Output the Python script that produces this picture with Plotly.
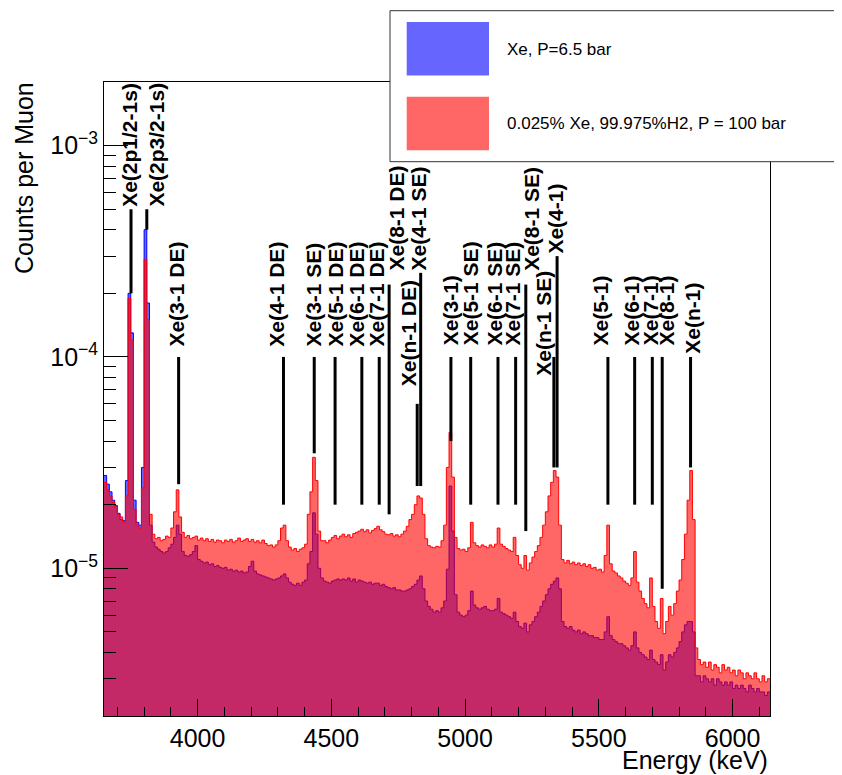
import numpy as np
import plotly.graph_objects as go

# ---------------- data ----------------
bin_low = 3650.0      # keV, lower edge of first bin
bin_width = 10.0      # keV
unit = 1e-6           # values below are in units of 1e-6 counts per muon

# Xe, P=6.5 bar  (blue)
xe_6p5bar = [
    27.5, 25.0, 23.0, 21.0, 19.8, 18.2, 17.0, 16.8, 26.0, 200,      # 3650
    130, 21.0, 16.5, 16.0, 30.0, 400, 180, 16.0, 13.3, 12.6,         # 3750
    12.3, 12.0, 11.8, 12.0, 12.5, 13.0, 14.0, 16.0, 14.5, 12.0,      # 3850
    11.5, 11.4, 11.6, 12.0, 12.8, 11.0, 10.8, 10.6, 10.7, 10.4,      # 3950
    10.5, 10.2, 10.3, 10.1, 10.0, 10.1, 9.8, 9.9, 9.7, 9.8,          # 4050
    9.6, 9.7, 9.5, 9.6, 10.2, 10.8, 9.7, 9.4, 9.3, 9.2,              # 4150
    9.1, 9.0, 8.9, 8.8, 8.9, 9.0, 9.2, 9.4, 9.0, 8.6,                # 4250
    8.4, 8.3, 8.5, 8.3, 8.6, 8.8, 10.5, 12.0, 18.3, 14.5,            # 4350
    10.0, 9.0, 8.7, 8.6, 8.5, 8.7, 8.8, 8.9, 8.8, 8.9,               # 4450
    8.8, 9.0, 8.7, 8.9, 8.6, 8.8, 8.7, 8.6, 8.5, 8.6,                # 4550
    8.4, 8.5, 8.5, 8.3, 8.4, 8.2, 8.1, 8.0, 8.1, 7.9,                # 4650
    7.9, 7.8, 7.8, 7.9, 8.0, 8.2, 8.4, 8.8, 9.2, 8.0,                # 4750
    7.0, 6.6, 6.4, 6.2, 6.3, 6.2, 6.5, 7.0, 9.9, 24.5,               # 4850
    15.0, 7.5, 6.2, 6.0, 5.9, 6.0, 6.3, 7.8, 6.7, 6.5,               # 4950
    6.4, 6.5, 6.6, 6.4, 6.3, 6.3, 6.4, 7.2, 6.2, 6.1,                # 5050
    6.0, 5.9, 5.8, 6.2, 5.6, 5.3, 5.2, 5.5, 5.0, 5.4,                # 5150
    5.6, 5.9, 6.2, 6.6, 7.0, 7.5, 8.0, 8.4, 8.7, 9.0,                # 5250
    8.0, 5.6, 5.3, 5.2, 5.3, 5.1, 5.0, 5.1, 4.9, 5.0,                # 5350
    4.9, 4.8, 4.8, 4.7, 4.7, 4.6, 4.6, 5.0, 5.9, 4.8,                # 5450
    4.6, 4.5, 4.4, 4.4, 4.3, 4.2, 4.1, 4.3, 5.0, 4.2,                # 5550
    4.0, 3.9, 3.8, 3.7, 4.1, 3.7, 3.6, 3.5, 3.9, 3.3,                # 5650
    3.6, 3.9, 3.8, 4.0, 4.2, 4.5, 5.0, 5.4, 5.6, 5.6,                # 5750
    5.0, 3.1, 3.1, 2.9, 3.1, 3.0, 2.9, 3.0, 2.8, 3.0,                # 5850
    2.9, 2.8, 2.9, 2.8, 2.9, 2.7, 2.8, 2.7, 2.8, 2.7,                # 5950
    2.6, 2.8, 2.7, 2.6, 2.7, 2.6, 2.6, 2.5, 2.6,                     # 6050
]

# 0.025% Xe, 99.975% H2, P = 100 bar  (red)
xe_h2_100bar = [
    25.5, 23.5, 22.0, 20.5, 19.5, 18.0, 17.5, 16.5, 22.0, 190,       # 3650
    120, 19.0, 16.0, 15.5, 24.0, 290, 150, 18.0, 14.5, 13.8,         # 3750
    14.0, 13.5, 13.7, 14.2, 14.0, 15.5, 18.5, 23.5, 17.5, 14.8,      # 3850
    14.0, 14.3, 13.8, 14.0, 14.2, 13.6, 13.9, 13.5, 13.8, 13.4,      # 3950
    13.7, 13.3, 13.6, 13.5, 13.2, 13.6, 13.4, 13.7, 13.3, 13.5,      # 4050
    13.9, 13.4, 13.6, 13.8, 13.4, 13.7, 13.3, 13.5, 13.2, 13.6,      # 4150
    13.1, 12.8, 12.9, 12.6, 12.9, 13.5, 15.5, 16.0, 13.5, 12.6,      # 4250
    12.2, 12.4, 12.0, 12.3, 12.5, 13.0, 18.0, 23.0, 33.5, 26.0,      # 4350
    15.0, 13.5, 13.5, 13.2, 13.6, 14.0, 14.3, 13.8, 14.2, 14.5,      # 4450
    14.1, 14.4, 14.0, 14.6, 14.8, 15.0, 15.3, 14.9, 15.2, 14.7,      # 4550
    15.1, 15.4, 15.8, 15.2, 14.9, 14.5, 14.4, 14.6, 14.2, 14.4,      # 4650
    14.1, 14.5, 15.0, 15.8, 17.0, 18.0, 20.0, 22.0, 21.5, 18.0,      # 4750
    13.8, 12.8, 12.6, 12.5, 12.7, 12.6, 13.5, 16.0, 30.0, 44.0,      # 4850
    27.0, 14.0, 12.4, 12.2, 12.3, 12.0, 12.5, 16.5, 13.2, 12.8,      # 4950
    12.6, 12.9, 12.7, 12.5, 12.9, 12.6, 13.0, 15.5, 13.0, 12.7,      # 5050
    12.4, 12.2, 12.0, 14.0, 11.5, 10.4, 10.0, 11.5, 9.8, 10.6,       # 5150
    11.3, 12.0, 12.8, 14.0, 16.0, 18.5, 22.0, 25.5, 29.0, 27.0,      # 5250
    16.0, 11.0, 10.6, 10.9, 10.5, 10.7, 10.4, 10.6, 10.3, 10.5,      # 5350
    10.2, 10.4, 10.0, 10.1, 9.8, 9.9, 9.6, 11.5, 16.0, 10.5,         # 5450
    9.7, 9.5, 9.2, 9.0, 8.7, 8.5, 8.3, 9.0, 12.0, 8.6,               # 5550
    7.8, 7.2, 6.8, 6.5, 9.0, 6.6, 5.6, 5.2, 7.2, 4.9,                # 5650
    5.6, 6.6, 6.0, 6.8, 7.8, 8.8, 11.0, 14.5, 21.0, 29.0,            # 5750
    17.0, 4.2, 3.7, 3.5, 3.6, 3.4, 3.6, 3.3, 3.5, 3.4,               # 5850
    3.2, 3.5, 3.3, 3.4, 3.2, 3.3, 3.1, 3.3, 3.2, 3.0,                # 5950
    3.2, 3.1, 3.0, 3.2, 3.0, 2.9, 3.1, 2.9, 3.0,                     # 6050
]

label_names = ["Xe(2p1/2-1s)", "Xe(2p3/2-1s)", "Xe(3-1 DE)", "Xe(4-1 DE)", "Xe(3-1 SE)",
               "Xe(5-1 DE)", "Xe(6-1 DE)", "Xe(7-1 DE)", "Xe(8-1 DE)", "Xe(n-1 DE)",
               "Xe(4-1 SE)", "Xe(3-1)", "Xe(5-1 SE)", "Xe(6-1 SE)", "Xe(7-1 SE)",
               "Xe(8-1 SE)", "Xe(n-1 SE)", "Xe(4-1)", "Xe(5-1)", "Xe(6-1)",
               "Xe(7-1)", "Xe(8-1)", "Xe(n-1)"]
line_energy = [3751, 3810, 3929, 4321, 4436, 4514, 4614, 4679, 4716, 4821, 4834, 4947,
               5021, 5123, 5189, 5227, 5332, 5344, 5534, 5634, 5700, 5737, 5843]
line_top = [5e-4, 5e-4, 1e-4, 1e-4, 1e-4, 1e-4, 1e-4, 1e-4, 2.2e-4, 6e-5, 2.5e-4, 1e-4,
            1e-4, 1e-4, 1e-4, 2.2e-4, 1e-4, 3e-4, 1e-4, 1e-4, 1e-4, 1e-4, 1e-4]
line_bottom = [2e-4, 4e-4, 2.5e-5, 2e-5, 3.5e-5, 2e-5, 2e-5, 2e-5, 1.8e-5, 2.45e-5, 2.45e-5, 4e-5,
               2e-5, 2e-5, 2e-5, 1.5e-5, 3e-5, 3e-5, 2e-5, 2e-5, 2e-5, 8e-6, 3e-5]
text_energy = [3745, 3845, 3922, 4296, 4432, 4516, 4595, 4669, 4744, 4787, 4824, 4946,
               5021, 5112, 5179, 5248, 5295, 5340, 5508, 5624, 5694, 5755, 5852]
text_base = [5.1e-4, 5.1e-4, 1.11e-4, 1.11e-4, 1.11e-4, 1.11e-4, 1.11e-4, 1.11e-4, 2.54e-4, 7.2e-5,
             2.54e-4, 1.12e-4, 1.12e-4, 1.12e-4, 1.12e-4, 2.54e-4, 8.1e-5, 3.05e-4, 1.12e-4,
             1.12e-4, 1.12e-4, 1.12e-4, 1.03e-4]

legend_names = ["Xe, P=6.5 bar", "0.025% Xe, 99.975%H2, P = 100 bar"]
x_ticks = [4000, 4500, 5000, 5500, 6000]
y_ticks = [1e-5, 1e-4, 1e-3]
y_ticktext = ["10<sup>\u22125</sup>", "10<sup>\u22124</sup>", "10<sup>\u22123</sup>"]

# ---------------- figure ----------------
# The page places the plot div 8 px from the top-left corner (body margin),
# so the figure is 8 px smaller and all reference pixel positions are shifted.
OFF = 8
W, H = 842 - OFF, 775 - OFF
L, R, T, B = 104, 770, 82, 716   # plot area in reference (window) pixels
FONT = "Liberation Sans, Arial, Helvetica, sans-serif"

def px_x(p):
    return (p - L) / (R - L)

def px_y(p):
    return (B - p) / (B - T)

n = len(xe_6p5bar)
assert n == len(xe_h2_100bar)
edges = bin_low + bin_width * np.arange(n + 1)

def step_y(vals):
    v = [x * unit for x in vals]
    return v + [v[-1]]

fig = go.Figure()
fig.add_trace(go.Scatter(
    x=edges, y=step_y(xe_6p5bar), mode="lines",
    line=dict(shape="hv", color="#0000ff", width=1),
    fill="tozeroy", fillcolor="rgba(0,0,255,0.6)", showlegend=False, name=legend_names[0]))
fig.add_trace(go.Scatter(
    x=edges, y=step_y(xe_h2_100bar), mode="lines",
    line=dict(shape="hv", color="#ff0000", width=1),
    fill="tozeroy", fillcolor="rgba(255,0,0,0.6)", showlegend=False, name=legend_names[1]))

lx, ly = [], []
for e, t, b in zip(line_energy, line_top, line_bottom):
    lx += [e, e, None]
    ly += [t, b, None]
fig.add_trace(go.Scatter(x=lx, y=ly, mode="lines", line=dict(color="black", width=3),
                         showlegend=False, hoverinfo="skip"))

annotations = []
for name, e, base in zip(label_names, text_energy, text_base):
    annotations.append(dict(
        x=e, y=np.log10(base), xref="x", yref="y", text="<b>%s</b>" % name,
        textangle=-90, showarrow=False, xanchor="center", yanchor="bottom",
        font=dict(family=FONT, size=21, color="black"), borderpad=0))

annotations.append(dict(x=px_x(24), y=px_y(80), xref="paper", yref="paper",
                        text="Counts per Muon", textangle=-90, showarrow=False,
                        xanchor="center", yanchor="top",
                        font=dict(family=FONT, size=25, color="black")))
annotations.append(dict(x=1.0, y=px_y(760), xref="paper", yref="paper",
                        text="Energy (keV)", showarrow=False,
                        xanchor="right", yanchor="middle",
                        font=dict(family=FONT, size=25, color="black")))

# legend (ROOT-style box)
shapes = [dict(type="rect", xref="paper", yref="paper",
               x0=px_x(390), x1=px_x(860), y0=px_y(161.7), y1=px_y(10.7),
               fillcolor="white", line=dict(color="#333333", width=1), layer="above")]
sw_colors = ["#6666ff", "#ff6666"]
sw_top = [22, 96.7]
for c, top, nm in zip(sw_colors, sw_top, legend_names):
    shapes.append(dict(type="rect", xref="paper", yref="paper",
                       x0=px_x(406.7), x1=px_x(489), y0=px_y(top + 53.5), y1=px_y(top),
                       fillcolor=c, line=dict(width=0), layer="above"))
    annotations.append(dict(x=px_x(505), y=px_y(top + 27), xref="paper", yref="paper",
                            text=nm, showarrow=False, xanchor="left", yanchor="middle",
                            font=dict(family=FONT, size=17, color="black")))

minor_y = [m * 10.0 ** e for e in range(-6, -2) for m in range(2, 10)]

fig.update_layout(
    width=W, height=H,
    margin=dict(l=L - OFF, r=842 - R, t=T - OFF, b=775 - B, pad=0),
    paper_bgcolor="white", plot_bgcolor="white",
    font=dict(family=FONT, size=25, color="black"),
    showlegend=False,
    annotations=annotations, shapes=shapes,
    xaxis=dict(range=[3650, 6140], tickvals=x_ticks, ticks="inside", ticklen=17,
               tickwidth=1, tickcolor="black", showgrid=False, zeroline=False,
               showline=True, linecolor="black", linewidth=1, mirror=True,
               tickfont=dict(family=FONT, size=25, color="black"),
               minor=dict(dtick=100, ticks="inside", ticklen=9, tickcolor="black", showgrid=False)),
    yaxis=dict(type="log", range=[np.log10(2e-6), np.log10(2e-3)],
               tickvals=y_ticks, ticktext=y_ticktext, ticks="inside", ticklen=24,
               tickwidth=1, tickcolor="black", showgrid=False, zeroline=False,
               showline=True, linecolor="black", linewidth=1, mirror=True,
               tickfont=dict(family=FONT, size=25, color="black"),
               minor=dict(tickvals=minor_y, ticks="inside", ticklen=12, tickcolor="black", showgrid=False)),
)

fig.write_html("out.html")
